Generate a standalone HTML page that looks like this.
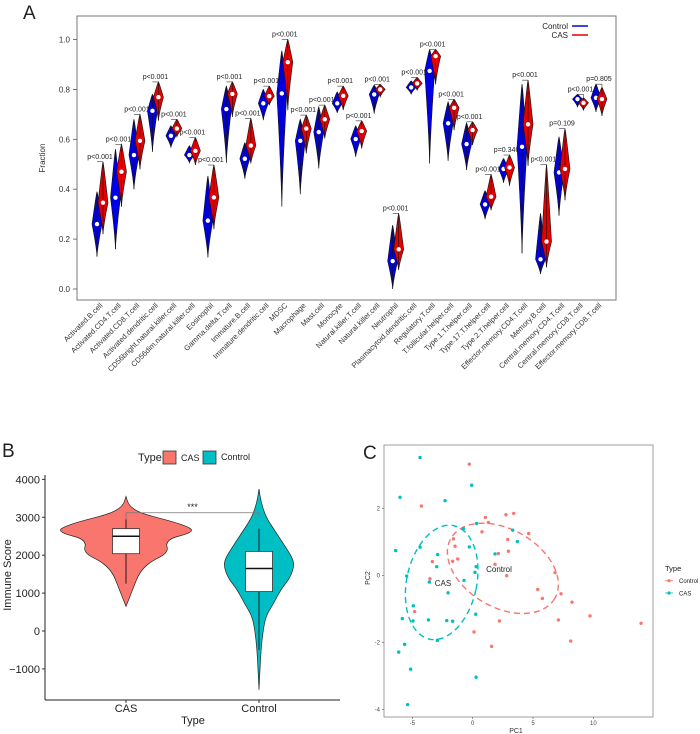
<!DOCTYPE html>
<html><head><meta charset="utf-8"><style>
body{margin:0;background:#fff;}
svg{display:block;font-family:"Liberation Sans",Arial,sans-serif;}
</style></head><body>
<svg id="fig" width="700" height="734" viewBox="0 0 700 734"></svg>
<script>
// ---------- Panel A data ----------
const cellTypes=["Activated.B.cell","Activated.CD4.T.cell","Activated.CD8.T.cell","Activated.dendritic.cell","CD56bright.natural.killer.cell","CD56dim.natural.killer.cell","Eosinophil","Gamma.delta.T.cell","Immature.B.cell","Immature.dendritic.cell","MDSC","Macrophage","Mast.cell","Monocyte","Natural.killer.T.cell","Natural.killer.cell","Neutrophil","Plasmacytoid.dendritic.cell","Regulatory.T.cell","T.follicular.helper.cell","Type.1.T.helper.cell","Type.17.T.helper.cell","Type.2.T.helper.cell","Effector.memory.CD4.T.cell","Memory.B.cell","Central.memory.CD4.T.cell","Central.memory.CD8.T.cell","Effector.memory.CD8.T.cell"];
const ctrlMed=[0.26,0.366,0.537,0.714,0.614,0.537,0.274,0.721,0.522,0.744,0.784,0.594,0.629,0.744,0.601,0.78,0.112,0.808,0.874,0.664,0.581,0.339,0.481,0.57,0.119,0.467,0.761,0.766];
const ctrlMin=[0.13,0.16,0.40,0.55,0.567,0.506,0.127,0.506,0.442,0.677,0.33,0.38,0.483,0.706,0.53,0.703,0.0,0.781,0.503,0.514,0.477,0.28,0.426,0.143,0.06,0.294,0.73,0.71];
const ctrlMax=[0.39,0.56,0.68,0.78,0.654,0.574,0.453,0.813,0.586,0.80,0.955,0.68,0.73,0.79,0.654,0.817,0.256,0.834,0.96,0.75,0.666,0.394,0.523,0.821,0.303,0.61,0.78,0.821];
const casMed=[0.346,0.47,0.594,0.769,0.643,0.554,0.367,0.782,0.575,0.773,0.909,0.643,0.68,0.774,0.633,0.80,0.159,0.824,0.933,0.726,0.637,0.37,0.487,0.66,0.19,0.481,0.746,0.761];
const casMin=[0.22,0.33,0.48,0.675,0.61,0.497,0.24,0.69,0.503,0.737,0.717,0.543,0.603,0.717,0.563,0.77,0.076,0.797,0.82,0.637,0.577,0.316,0.414,0.494,0.087,0.356,0.717,0.694];
const casMax=[0.51,0.58,0.70,0.83,0.68,0.607,0.497,0.83,0.684,0.813,1.0,0.697,0.737,0.813,0.674,0.82,0.303,0.848,0.96,0.76,0.67,0.459,0.537,0.837,0.499,0.643,0.766,0.808];
const pLabels=["p<0.001","p<0.001","p<0.001","p<0.001","p<0.001","p<0.001","p<0.001","p<0.001","p<0.001","p<0.001","p<0.001","p<0.001","p<0.001","p<0.001","p<0.001","p<0.001","p<0.001","p<0.001","p<0.001","p<0.001","p<0.001","p<0.001","p=0.346","p<0.001","p<0.001","p=0.109","p<0.001","p=0.805"];
const aTicks=[0.0,0.2,0.4,0.6,0.8,1.0];

// ---------- Panel B data ----------
const bGroups=["CAS","Control"];
const casDensVal=[3550,3300,3100,2900,2750,2650,2550,2450,2300,2150,2000,1850,1650,1450,1250,1050,850,650];
const casDens=[0,3,15,45,62,67,60,45,40,42,38,26,17,12,9,6,3,0];
const ctrlDensVal=[3750,3400,3000,2600,2200,1900,1700,1400,1100,700,400,0,-500,-1000,-1550];
const ctrlDens=[0,2,7,17,27,34,35,31,22,14,7,4,2,1,0];
const boxQ1=[2040,1040], boxMed=[2500,1650], boxQ3=[2700,2100], whiskLo=[1250,-500], whiskHi=[2950,2700];
const bTicks=[-1000,0,1000,2000,3000,4000];

// ---------- Panel C data ----------
const casPC1=[-4.36,-6.02,-2.29,-0.08,-6.38,-4.36,-2.90,-2.98,-3.59,-5.47,-2.04,-0.28,0.33,-0.77,1.85,3.31,3.70,0.28,0.19,-0.72,-4.92,-5.83,-4.94,-3.67,-2.15,-1.66,0.25,-2.93,-5.64,-6.13,-5.14,0.28,-5.39];
const casPC2=[3.53,2.34,2.24,2.70,0.75,0.85,0.63,0.27,-0.19,-0.01,-0.51,0.86,1.56,1.41,0.65,1.36,1.02,0.27,0.10,-0.14,-0.90,-1.28,-1.35,-1.32,-1.34,-1.36,-1.15,-1.93,-2.05,-2.28,-2.79,-3.03,-3.85];
const ctrlPC1=[-0.28,-4.25,1.05,2.76,3.40,1.30,0.77,4.64,2.90,-1.60,-1.46,2.96,2.13,-1.24,-1.66,-3.34,1.85,2.82,6.82,-3.54,5.39,5.77,7.32,8.23,-4.81,2.21,7.10,9.72,0.11,1.57,8.12,13.95];
const ctrlPC2=[3.33,2.08,1.74,1.82,1.86,1.59,1.31,1.26,1.08,1.10,0.88,0.73,0.66,0.50,0.43,0.42,0.34,0.00,0.09,-0.09,-0.41,-0.68,-0.54,-0.79,-1.07,-1.35,-1.32,-1.20,-1.68,-2.11,-1.95,-1.42];
const cXTicks=[-5,0,5,10];
const cYTicks=[-4,-2,0,2];

const NS="http://www.w3.org/2000/svg";
const svg=document.getElementById('fig');
function mk(tag,attrs,parent,txt){const e=document.createElementNS(NS,tag);for(const k in attrs)e.setAttribute(k,attrs[k]);if(txt!==undefined)e.textContent=txt;(parent||svg).appendChild(e);return e;}

// ===== Panel A =====
const gA=mk('g',{});


const ay=v=>289-v*249.5;
const ax=i=>100+i*18.48;
let t=mk('text',{x:23,y:19,'font-size':19,fill:'#222'},gA,'A');

let r=mk('rect',{x:77,y:16,width:539,height:284,fill:'none',stroke:'#777','stroke-width':1},gA);

aTicks.forEach(v=>{
  const l=mk('line',{x1:73,x2:77,y1:ay(v),y2:ay(v),stroke:'#555','stroke-width':0.8},gA);
  
  const tt=mk('text',{x:70,y:ay(v)+3,'font-size':8,'text-anchor':'end',fill:'#333'},gA,v.toFixed(1));
  
});
t=mk('text',{x:0,y:0,'font-size':8,'text-anchor':'middle',fill:'#333',transform:'translate(45,158) rotate(-90)'},gA,'Fraction');

function violinA(cx,med,mn,mx,w,fill,name){
  const ym=ay(med),y0=ay(mx),y1=ay(mn);let pts=[];const N=16;
  for(let k=0;k<=N;k++){const y=y0+(ym-y0)*k/N;const d=1-k/N;pts.push([cx+w*Math.pow(1-d,0.8)*(1-0.15*d),y]);}
  for(let k=1;k<=N;k++){const y=ym+(y1-ym)*k/N;const d=k/N;pts.push([cx+w*Math.pow(1-d,1.3),y]);}
  const right=pts.map(p=>p.join(',')),left=pts.slice().reverse().map(p=>[2*cx-p[0],p[1]].join(','));
  const p=mk('polygon',{points:right.concat(left).join(' '),fill:fill,stroke:'#111','stroke-width':0.6},gA);
  
  mk('line',{x1:cx,x2:cx,y1:y0,y2:y1,stroke:'#111','stroke-width':0.6},gA);
  const c=mk('circle',{cx:cx,cy:ym,r:2.2,fill:'#fff'},gA);
  
}
cellTypes.forEach((name,i)=>{
  const cx=ax(i);
  violinA(cx-3,ctrlMed[i],ctrlMin[i],ctrlMax[i],5,'#0000e6','violin-control-'+i);
  violinA(cx+3,casMed[i],casMin[i],casMax[i],5,'#e60000','violin-cas-'+i);
  const top=ay(Math.max(ctrlMax[i],casMax[i]));
  const br=mk('path',{d:`M${cx-3},${top} L${cx+3},${top} L${cx+3},${ay(casMax[i])}`,fill:'none',stroke:'#333','stroke-width':0.6},gA);
  
  const pl=mk('text',{x:cx,y:top-3,'font-size':7,'text-anchor':'middle',fill:'#222'},gA,pLabels[i]);
  
  const xl=mk('text',{x:0,y:0,'font-size':7.5,'text-anchor':'end',fill:'#333',transform:`translate(${cx+3},306) rotate(-45)`},gA,name);
  
});
t=mk('text',{x:568,y:29,'font-size':8,'text-anchor':'end',fill:'#222'},gA,'Control');

mk('line',{x1:572,x2:588,y1:26,y2:26,stroke:'#0000e6','stroke-width':1.5},gA);
t=mk('text',{x:568,y:38,'font-size':8,'text-anchor':'end',fill:'#222'},gA,'CAS');

mk('line',{x1:572,x2:588,y1:35,y2:35,stroke:'#e60000','stroke-width':1.5},gA);

// ===== Panel B =====
const gB=mk('g',{});


const by=v=>631-v*0.0379;
const bx=[126,259];
t=mk('text',{x:2,y:457,'font-size':19,fill:'#222'},gB,'B');

function violinB(cx,vals,dens,fill,name){
  let R=vals.map((v,k)=>[cx+dens[k],by(v)]);let L=R.slice().reverse().map(p=>[2*cx-p[0],p[1]]);
  const all=R.concat(L);let d='M'+all[0].join(',');
  for(let k=1;k<all.length;k++){const p0=all[k-1],p1=all[k];const mxp=(p0[0]+p1[0])/2,myp=(p0[1]+p1[1])/2;d+=` Q${p0[0]},${p0[1]} ${mxp},${myp}`;}
  d+=' Z';
  const p=mk('path',{d:d,fill:fill,stroke:'#222','stroke-width':0.7},gB);
  
}
violinB(bx[0],casDensVal,casDens,'#f8766d','violin-cas');
violinB(bx[1],ctrlDensVal,ctrlDens,'#00bfc4','violin-control');
bGroups.forEach((g,i)=>{
  mk('line',{x1:bx[i],x2:bx[i],y1:by(whiskLo[i]),y2:by(whiskHi[i]),stroke:'#111','stroke-width':0.9},gB);
  const b=mk('rect',{x:bx[i]-13.5,y:by(boxQ3[i]),width:27,height:by(boxQ1[i])-by(boxQ3[i]),fill:'#fff',stroke:'#333','stroke-width':0.8},gB);
  
  mk('line',{x1:bx[i]-13.5,x2:bx[i]+13.5,y1:by(boxMed[i]),y2:by(boxMed[i]),stroke:'#111','stroke-width':1.5},gB);
  const xt=mk('text',{x:bx[i],y:712,'font-size':11,'text-anchor':'middle',fill:'#222'},gB,g);
  
  mk('line',{x1:bx[i],x2:bx[i],y1:700,y2:703,stroke:'#333'},gB);
});
const sig=mk('path',{d:`M${bx[0]},${by(2950)} L${bx[0]},${by(3120)} L${bx[1]},${by(3120)} L${bx[1]},${by(3000)}`,fill:'none',stroke:'#777','stroke-width':0.8},gB);

t=mk('text',{x:(bx[0]+bx[1])/2,y:by(3300)+4,'font-size':9,'text-anchor':'middle',fill:'#222'},gB,'***');

mk('line',{x1:45,x2:45,y1:475,y2:700,stroke:'#222','stroke-width':1},gB);
mk('line',{x1:45,x2:340,y1:700,y2:700,stroke:'#222','stroke-width':1},gB);
bTicks.forEach(v=>{
  mk('line',{x1:42,x2:45,y1:by(v),y2:by(v),stroke:'#333'},gB);
  const tt=mk('text',{x:40,y:by(v)+4,'font-size':11,'text-anchor':'end',fill:'#222'},gB,(v<0?'\u2212'+(-v):String(v)));
  
});
t=mk('text',{x:0,y:0,'font-size':11,'text-anchor':'middle',fill:'#222',transform:'translate(11,575) rotate(-90)'},gB,'Immune Score');

t=mk('text',{x:193,y:724,'font-size':11,'text-anchor':'middle',fill:'#222'},gB,'Type');

t=mk('text',{x:138,y:461,'font-size':11,fill:'#222'},gB,'Type');

r=mk('rect',{x:163,y:451,width:13,height:13,fill:'#f8766d',stroke:'#333','stroke-width':0.8},gB);

t=mk('text',{x:181,y:461,'font-size':9,fill:'#222'},gB,'CAS');

r=mk('rect',{x:203,y:451,width:13,height:13,fill:'#00bfc4',stroke:'#333','stroke-width':0.8},gB);

t=mk('text',{x:221,y:460,'font-size':9,fill:'#222'},gB,'Control');


// ===== Panel C =====
const gC=mk('g',{});


const cx_=v=>472.7+v*12.07;
const cy_=v=>575.7-v*33.5;
t=mk('text',{x:363,y:459,'font-size':19,fill:'#222'},gC,'C');

r=mk('rect',{x:384,y:445,width:269,height:272,fill:'none',stroke:'#888','stroke-width':0.8},gC);

cXTicks.forEach(v=>{
  mk('line',{x1:cx_(v),x2:cx_(v),y1:717,y2:719,stroke:'#555','stroke-width':0.6},gC);
  const tt=mk('text',{x:cx_(v),y:725,'font-size':6,'text-anchor':'middle',fill:'#444'},gC,String(v));
  
});
cYTicks.forEach(v=>{
  mk('line',{x1:382,x2:384,y1:cy_(v),y2:cy_(v),stroke:'#555','stroke-width':0.6},gC);
  const tt=mk('text',{x:380,y:cy_(v)+2,'font-size':6,'text-anchor':'end',fill:'#444'},gC,String(v));
  
});
t=mk('text',{x:516,y:733,'font-size':7,'text-anchor':'middle',fill:'#333'},gC,'PC1');

t=mk('text',{x:0,y:0,'font-size':7,'text-anchor':'middle',fill:'#333',transform:'translate(370,578) rotate(-90)'},gC,'PC2');

let e=mk('ellipse',{cx:cx_(-2.57),cy:cy_(-0.2),rx:35,ry:58,fill:'none',stroke:'#00bfc4','stroke-width':1.4,'stroke-dasharray':'6,4',transform:`rotate(12 ${cx_(-2.57)} ${cy_(-0.2)})`},gC);

e=mk('ellipse',{cx:cx_(2.5),cy:cy_(0.22),rx:60,ry:39,fill:'none',stroke:'#f8766d','stroke-width':1.4,'stroke-dasharray':'6,4',transform:`rotate(30 ${cx_(2.5)} ${cy_(0.22)})`},gC);

ctrlPC1.forEach((v,i)=>{
  const c=mk('circle',{cx:cx_(v),cy:cy_(ctrlPC2[i]),r:1.7,fill:'#f8766d'},gC);
  
});
casPC1.forEach((v,i)=>{
  const c=mk('circle',{cx:cx_(v),cy:cy_(casPC2[i]),r:1.7,fill:'#00bfc4'},gC);
  
});
t=mk('text',{x:443,y:586,'font-size':8,'text-anchor':'middle',fill:'#222'},gC,'CAS');

t=mk('text',{x:499,y:572,'font-size':8,'text-anchor':'middle',fill:'#222'},gC,'Control');

t=mk('text',{x:665,y:571,'font-size':7.5,fill:'#222'},gC,'Type');

mk('line',{x1:665,x2:673,y1:580.7,y2:580.7,stroke:'#f8766d','stroke-width':0.8},gC);
mk('circle',{cx:669,cy:580.7,r:1.6,fill:'#f8766d'},gC);
t=mk('text',{x:679,y:583,'font-size':6,fill:'#222'},gC,'Control');

mk('line',{x1:665,x2:673,y1:593,y2:593,stroke:'#00bfc4','stroke-width':0.8},gC);
mk('circle',{cx:669,cy:593,r:1.6,fill:'#00bfc4'},gC);
t=mk('text',{x:679,y:595.5,'font-size':6,fill:'#222'},gC,'CAS');

</script>
</body></html>
